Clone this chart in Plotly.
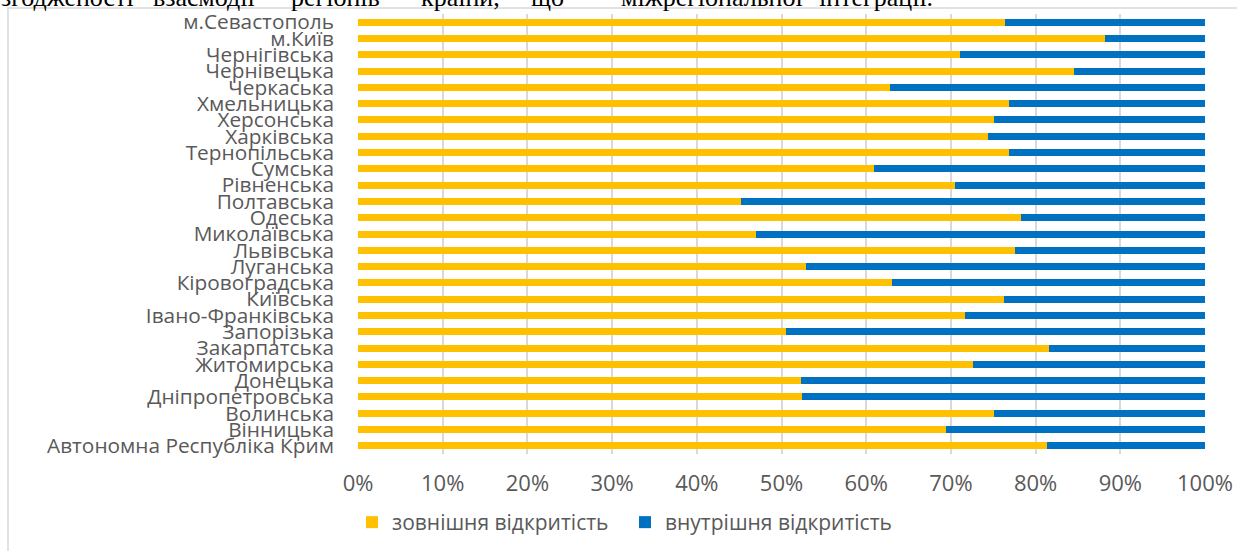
import plotly.graph_objects as go

regions = [
    "Автономна Республіка Крим", "Вінницька", "Волинська", "Дніпропетровська",
    "Донецька", "Житомирська", "Закарпатська", "Запорізька", "Івано-Франківська",
    "Київська", "Кіровоградська", "Луганська", "Львівська", "Миколаївська",
    "Одеська", "Полтавська", "Рівненська", "Сумська", "Тернопільська",
    "Харківська", "Херсонська", "Хмельницька", "Черкаська", "Чернівецька",
    "Чернігівська", "м.Київ", "м.Севастополь",
]
external_open = [
    81.3, 69.4, 75.1, 52.4, 52.3, 72.6, 81.6, 50.5, 71.7, 76.3, 63.1, 52.9,
    77.6, 47.0, 78.3, 45.2, 70.5, 60.9, 76.9, 74.4, 75.1, 76.9, 62.8, 84.5,
    71.1, 88.2, 76.4,
]
internal_open = [
    18.7, 30.6, 24.9, 47.6, 47.7, 27.4, 18.4, 49.5, 28.3, 23.7, 36.9, 47.1,
    22.4, 53.0, 21.7, 54.8, 29.5, 39.1, 23.1, 25.6, 24.9, 23.1, 37.2, 15.5,
    28.9, 11.8, 23.6,
]
series_names = ["зовнішня відкритість", "внутрішня відкритість"]
x_ticks = list(range(0, 101, 10))
x_tick_text = [f"{v}%" for v in x_ticks]

# Clipped line of document text above the chart
header_words = ["згодженості", "взаємодії", "регіонів", "країни,", "що",
                "міжрегіональної", "інтеграції."]
header_px = [0, 152, 290, 420, 530, 620, 818]

W, H = 1237, 551
L, R, T, B = 358, 32, 14, 97
PW, PH = W - L - R, H - T - B


def px_x(px):
    return (px - L) / PW


def px_y(py):
    return (H - B - py) / PH


fig = go.Figure()
fig.add_trace(go.Bar(
    y=regions, x=external_open, orientation="h", name=series_names[0],
    marker=dict(color="#FFC000", line=dict(width=0)),
))
fig.add_trace(go.Bar(
    y=regions, x=internal_open, orientation="h", name=series_names[1],
    marker=dict(color="#0070C0", line=dict(width=0)),
))

grey = "#595959"
fig.update_layout(
    width=W, height=H,
    margin=dict(l=L, r=R, t=T, b=B, autoexpand=False),
    barmode="stack", bargap=0.57,
    paper_bgcolor="white", plot_bgcolor="white",
    font=dict(family="Open Sans", color=grey, size=20),
    xaxis=dict(
        range=[0, 100], tickmode="array", tickvals=x_ticks, ticktext=x_tick_text,
        showgrid=True, gridcolor="#D9D9D9", gridwidth=2, zeroline=False,
        tickfont=dict(size=22, color=grey), ticklabelstandoff=14,
        automargin=False, fixedrange=True,
    ),
    yaxis=dict(
        type="category", categoryorder="array", categoryarray=regions,
        tickmode="array", tickvals=regions, ticktext=regions,
        range=[-0.5, len(regions) - 0.5],
        showgrid=False, zeroline=False,
        tickfont=dict(size=20.8, color=grey), ticklabelstandoff=23,
        automargin=False, fixedrange=True,
    ),
    legend=dict(
        orientation="h", x=px_x(352), xanchor="left", y=px_y(502), yanchor="top",
        font=dict(size=21, color=grey), itemwidth=30,
        entrywidthmode="pixels", entrywidth=228,
        traceorder="normal",
    ),
    showlegend=True,
)

fig.add_shape(type="rect", xref="paper", yref="paper",
              x0=px_x(8), x1=px_x(1250), y0=px_y(570), y1=px_y(8),
              line=dict(color="#D9D9D9", width=1.5), fillcolor="rgba(0,0,0,0)",
              layer="below")

for word, px in zip(header_words, header_px):
    fig.add_annotation(
        text=word, xref="paper", yref="paper", x=px_x(px), y=px_y(13),
        xanchor="left", yanchor="bottom", showarrow=False,
        font=dict(family="Liberation Serif", size=26, color="black"),
        borderpad=0,
    )

fig.write_html(
    "out.html",
    config={"displayModeBar": False},
    post_script="document.body.style.margin='0';document.body.style.overflow='hidden';",
)
